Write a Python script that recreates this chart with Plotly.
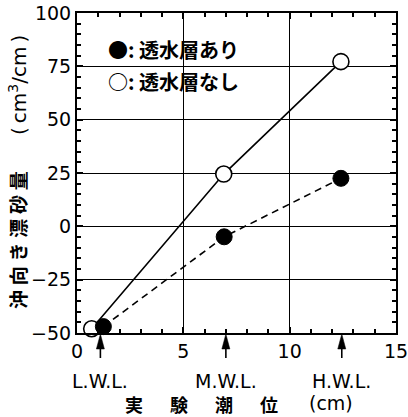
import plotly.graph_objects as go

# Data
with_layer_x = [1.24, 6.92, 12.41]
with_layer_y = [-47.0, -4.9, 22.5]
without_layer_x = [0.69, 6.90, 12.41]
without_layer_y = [-48.0, 24.5, 77.2]
wl_x = [1.1, 7.0, 12.45]
wl_labels = ["L.W.L.", "M.W.L.", "H.W.L."]
legend_labels = ["●: 透水層あり", "○: 透水層なし"]
x_ticks = [0, 5, 10, 15]
y_ticks = [-50, -25, 0, 25, 50, 75, 100]

FONT = "DejaVu Sans, sans-serif"
JFONT = "Noto Sans CJK JP, sans-serif"

fig = go.Figure()
fig.add_trace(go.Scatter(
    x=without_layer_x, y=without_layer_y, mode="lines+markers",
    line=dict(color="black", width=1.6),
    marker=dict(size=16, color="white", line=dict(color="black", width=1.6)),
    showlegend=False, cliponaxis=False))
fig.add_trace(go.Scatter(
    x=with_layer_x, y=with_layer_y, mode="lines+markers",
    line=dict(color="black", width=1.6, dash="7px,5px"),
    marker=dict(size=16, color="black", line=dict(color="black", width=1)),
    showlegend=False, cliponaxis=False))

axis_common = dict(
    showline=True, linecolor="black", linewidth=2, mirror="ticks",
    ticks="inside", ticklen=6, tickwidth=1.5, tickcolor="black",
    showgrid=True, gridcolor="black", gridwidth=1.4, zeroline=False,
    automargin=False, ticklabeloverflow="allow",
    tickfont=dict(family=FONT, size=19, color="black"),
)
fig.update_xaxes(range=[0, 15], tickvals=x_ticks,
                 minor=dict(dtick=1, ticks="inside", ticklen=4, tickcolor="black", showgrid=False),
                 **axis_common)
fig.update_yaxes(range=[-50, 100], tickvals=y_ticks,
                 ticktext=[str(v).replace("-", "−") for v in y_ticks],
                 minor=dict(dtick=5, ticks="inside", ticklen=4, tickcolor="black", showgrid=False),
                 **axis_common)

plot_l, plot_r, plot_t, plot_b = 77, 396, 13, 333
pw, ph = plot_r - plot_l, plot_b - plot_t
def px(xp):
    return (xp - plot_l) / pw
def py(yp):
    return (plot_b - yp) / ph

anns = []
for i, t in enumerate(legend_labels):
    anns.append(dict(x=px(106), y=py(50 + 32 * i), xref="paper", yref="paper",
                     xanchor="left", yanchor="middle", text=t, showarrow=False,
                     font=dict(family=JFONT, size=20, color="black", weight="bold")))

shapes = []
half_w = 4.0 / pw * 15  # arrowhead half width in data units
for xv, lab in zip(wl_x, wl_labels):
    shapes.append(dict(type="line", xref="x", yref="paper", x0=xv, x1=xv,
                       y0=py(358), y1=py(346), line=dict(color="black", width=1.6)))
    shapes.append(dict(type="path", xref="x", yref="paper",
                       path=f"M {xv} {py(334)} L {xv - half_w} {py(349)} L {xv + half_w} {py(349)} Z",
                       fillcolor="black", line=dict(color="black", width=0.5)))
    anns.append(dict(x=xv, y=py(381), xref="x", yref="paper", text=lab,
                     showarrow=False, yanchor="middle",
                     font=dict(family=FONT, size=19, color="black")))
# x title
anns.append(dict(x=px(201), y=py(404), xref="paper", yref="paper",
                 text="実\u3000\u2002験\u3000\u2002潮\u3000\u2002位",
                 showarrow=False, xanchor="center", yanchor="middle",
                 font=dict(family=JFONT, size=18, color="black", weight="bold")))
anns.append(dict(x=px(307), y=py(403), xref="paper", yref="paper", text="(cm)",
                 showarrow=False, xanchor="left", yanchor="middle",
                 font=dict(family=FONT, size=19, color="black")))
# y title
anns.append(dict(x=px(17), y=py(240), xref="paper", yref="paper",
                 text="\u2005".join("沖向き漂砂量"),
                 showarrow=False, textangle=-90, xanchor="center", yanchor="middle",
                 font=dict(family=JFONT, size=19, color="black", weight="bold")))
anns.append(dict(x=px(18), y=py(85), xref="paper", yref="paper", text="(\u2009cm<sup>3</sup>/cm\u2009)",
                 showarrow=False, textangle=-90, xanchor="center", yanchor="middle",
                 font=dict(family=FONT, size=20, color="black")))

fig.update_layout(
    width=408, height=417,
    margin=dict(l=plot_l, r=408 - plot_r, t=plot_t, b=417 - plot_b),
    plot_bgcolor="white", paper_bgcolor="white",
    annotations=anns, shapes=shapes,
)
fig.write_html("out.html", config={"displayModeBar": False},
               post_script="document.body.style.margin='0px';")
